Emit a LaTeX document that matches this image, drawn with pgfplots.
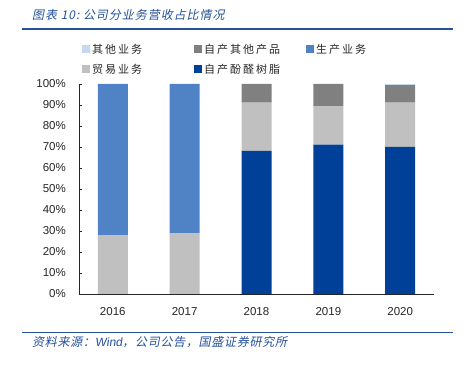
\documentclass[border=0pt]{standalone}
\usepackage{pgfplots}
\pgfplotsset{compat=1.18}
\usepackage{pgfplotstable}
\usepackage{fontspec}
\setmainfont{Liberation Sans}
\newfontfamily\cjk{Noto Sans CJK SC}
\newfontfamily\cjkit{Noto Sans CJK SC}[FakeSlant=0.2]
\newfontfamily\latit{Liberation Sans}[FakeSlant=0.15]
\definecolor{titleblue}{RGB}{36,80,155}
\definecolor{ruleblue}{RGB}{40,82,150}
\definecolor{cOtherBiz}{RGB}{197,217,241}
\definecolor{cOtherProd}{RGB}{128,128,128}
\definecolor{cProd}{RGB}{79,131,198}
\definecolor{cTrade}{RGB}{192,192,192}
\definecolor{cPhenol}{RGB}{0,64,152}
\pgfplotstableread{
x phenol trade prod otherprod otherbiz
0 0 28 72 0 0
1 0 29 71 0 0
2 68.2 22.9 0 8.9 0
3 71.1 18.4 0 10.5 0
4 70.0 21.1 0 8.4 0.5
}\data
\begin{document}
\begin{tikzpicture}
\useasboundingbox (0,0) rectangle (464pt,366pt);
\node[anchor=west,inner sep=0pt,text=titleblue,font=\fontsize{12}{14}\cjkit\addfontfeature{LetterSpace=8}] at (32pt,351pt) {图表 10:\ 公司分业务营收占比情况};
\draw[ruleblue,line width=1.4pt] (22pt,337pt) -- (453pt,337pt);
\draw[ruleblue,line width=1.4pt] (22pt,33.3pt) -- (453pt,33.3pt);
\node[anchor=west,inner sep=0pt,text=titleblue,font=\fontsize{12}{14}\cjkit\addfontfeature{LetterSpace=6}] at (32pt,24.3pt) {资料来源：{\latit Wind}，公司公告，国盛证券研究所};
\begin{axis}[
  at={(79pt,72pt)}, anchor=south west,
  scale only axis, width=355pt, height=210pt,
  ybar stacked, bar width=30pt,
  xmin=-0.47, xmax=4.47, ymin=0, ymax=100,
  axis lines=left, axis line style={-, draw=black!85},
  xtick={0,1,2,3,4}, xticklabels={2016,2017,2018,2019,2020},
  xtick style={draw=none},
  ytick={0,10,...,100},
  yticklabel={\pgfmathprintnumber{\tick}\%},
  ytick style={draw=black!85}, tick align=inside, major tick length=3.5pt,
  /pgf/number format/assume math mode=true,
  tick label style={font=\fontsize{11.5}{13}\selectfont, text=black!85},
  yticklabel style={inner sep=0pt, xshift=-13pt},
  xticklabel style={inner sep=0pt, yshift=-13pt},
  legend columns=3,
  legend style={at={(0,1.21)}, anchor=north west, draw=none, fill=none,
    font=\fontsize{11}{13}\cjk\addfontfeature{LetterSpace=18}, text=black!85,
    row sep=5pt,
    /tikz/every even column/.append style={column sep=0pt}},
  legend cell align=left,
  legend image code/.code={\fill[#1,draw=none] (0pt,-4pt) rectangle (8pt,4pt);},
]
\addplot[fill=cPhenol, draw=none, forget plot] table[x=x,y=phenol]{\data};
\addplot[fill=cTrade, draw=none, forget plot] table[x=x,y=trade]{\data};
\addplot[fill=cProd, draw=none, forget plot] table[x=x,y=prod]{\data};
\addplot[fill=cOtherProd, draw=none, forget plot] table[x=x,y=otherprod]{\data};
\addplot[fill=cOtherBiz, draw=none, forget plot] table[x=x,y=otherbiz]{\data};
\addlegendimage{fill=cOtherBiz,draw=none}
\addlegendentry{\makebox[100pt][l]{其他业务}}
\addlegendimage{fill=cOtherProd,draw=none}
\addlegendentry{\makebox[100pt][l]{自产其他产品}}
\addlegendimage{fill=cProd,draw=none}
\addlegendentry{\makebox[100pt][l]{生产业务}}
\addlegendimage{fill=cTrade,draw=none}
\addlegendentry{\makebox[100pt][l]{贸易业务}}
\addlegendimage{fill=cPhenol,draw=none}
\addlegendentry{\makebox[100pt][l]{自产酚醛树脂}}
\end{axis}
\end{tikzpicture}
\end{document}
